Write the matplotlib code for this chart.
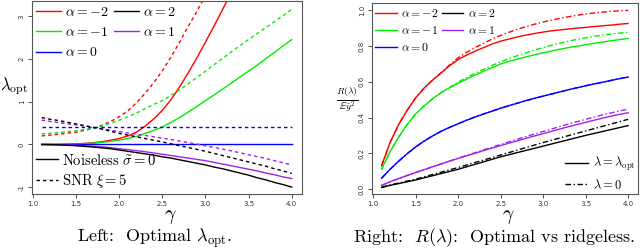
import matplotlib
matplotlib.use("Agg")
import matplotlib.pyplot as plt

plt.rcParams['mathtext.fontset'] = 'cm'
plt.rcParams['font.family'] = ['DejaVu Sans']

gamma = [1.1, 1.2, 1.3, 1.4, 1.5, 1.6, 1.7, 1.8, 1.9, 2.0,
         2.1, 2.2, 2.3, 2.4, 2.5, 2.6, 2.7, 2.8, 2.9, 3.0,
         3.1, 3.2, 3.3, 3.4, 3.5, 3.6, 3.7, 3.8, 3.9, 4.0]
alphas = [-2, -1, 0, 1, 2]
colors = {-2: '#FF0000', -1: '#00EE00', 0: '#0000FF', 1: '#A020F0', 2: '#000000'}

# left: optimal lambda, noiseless (solid) and SNR=5 (dashed)
lam_noiseless = {
    -2: [0, 0.001, 0.003, 0.008, 0.015, 0.025, 0.04, 0.065, 0.1, 0.14,
         0.2, 0.29, 0.43, 0.6, 0.8, 1.05, 1.35, 1.68, 2.03, 2.4,
         2.78, 3.17, 3.57, 3.98, 4.4, 4.8, 5.2, 5.6, 6.0, 6.4],
    -1: [0, 0.001, 0.003, 0.006, 0.01, 0.018, 0.03, 0.05, 0.07, 0.1,
         0.14, 0.19, 0.26, 0.33, 0.41, 0.52, 0.63, 0.76, 0.89, 1.03,
         1.16, 1.3, 1.44, 1.58, 1.72, 1.86, 2.01, 2.16, 2.31, 2.46],
    0: [0] * 30,
    1: [0, -0.002, -0.006, -0.012, -0.02, -0.03, -0.042, -0.057, -0.076, -0.1,
        -0.12, -0.145, -0.17, -0.2, -0.23, -0.26, -0.29, -0.32, -0.35, -0.38,
        -0.42, -0.46, -0.5, -0.54, -0.58, -0.62, -0.67, -0.71, -0.76, -0.8],
    2: [0, -0.003, -0.01, -0.02, -0.03, -0.045, -0.06, -0.08, -0.1, -0.13,
        -0.16, -0.19, -0.22, -0.25, -0.29, -0.32, -0.36, -0.4, -0.44, -0.48,
        -0.53, -0.57, -0.62, -0.67, -0.72, -0.78, -0.83, -0.89, -0.94, -1.0],
}
lam_snr = {
    -2: [0.2, 0.22, 0.24, 0.265, 0.29, 0.33, 0.38, 0.45, 0.54, 0.65,
         0.79, 0.98, 1.2, 1.45, 1.73, 2.05, 2.4, 2.77, 3.12, 3.5,
         3.9, 4.3, 4.7, 5.1, 5.5, 5.9, 6.3, 6.7, 7.1, 7.5],
    -1: [0.25, 0.26, 0.28, 0.3, 0.32, 0.35, 0.38, 0.43, 0.5, 0.57,
         0.65, 0.74, 0.84, 0.94, 1.03, 1.15, 1.28, 1.42, 1.57, 1.72,
         1.87, 2.02, 2.17, 2.32, 2.46, 2.6, 2.74, 2.88, 3.02, 3.17],
    0: [0.4] * 30,
    1: [0.57, 0.54, 0.51, 0.485, 0.46, 0.43, 0.4, 0.37, 0.335, 0.3,
        0.27, 0.24, 0.21, 0.18, 0.15, 0.115, 0.08, 0.045, 0.01, -0.03,
        -0.07, -0.11, -0.15, -0.195, -0.24, -0.285, -0.33, -0.38, -0.43, -0.48],
    2: [0.63, 0.59, 0.56, 0.52, 0.48, 0.44, 0.4, 0.36, 0.31, 0.26,
        0.22, 0.18, 0.14, 0.1, 0.06, 0.015, -0.03, -0.07, -0.115, -0.16,
        -0.21, -0.26, -0.31, -0.36, -0.41, -0.46, -0.51, -0.57, -0.62, -0.68],
}

# right: normalised risk, optimal (solid) vs ridgeless (dash-dot)
risk_opt = {
    -2: [0.13, 0.26, 0.36, 0.44, 0.51, 0.565, 0.61, 0.65, 0.69, 0.725,
         0.75, 0.772, 0.792, 0.812, 0.828, 0.84, 0.852, 0.862, 0.871, 0.879,
         0.886, 0.891, 0.896, 0.901, 0.905, 0.91, 0.914, 0.918, 0.923, 0.927],
    -1: [0.11, 0.21, 0.29, 0.36, 0.42, 0.465, 0.505, 0.54, 0.567, 0.592,
         0.615, 0.638, 0.66, 0.68, 0.7, 0.715, 0.728, 0.74, 0.752, 0.763,
         0.773, 0.783, 0.792, 0.8, 0.808, 0.816, 0.823, 0.83, 0.837, 0.843],
    0: [0.06, 0.11, 0.155, 0.197, 0.235, 0.268, 0.297, 0.323, 0.345, 0.365,
        0.385, 0.403, 0.42, 0.436, 0.452, 0.467, 0.481, 0.495, 0.508, 0.52,
        0.532, 0.544, 0.556, 0.567, 0.578, 0.588, 0.598, 0.608, 0.618, 0.627],
    1: [0.02, 0.04, 0.058, 0.075, 0.092, 0.108, 0.124, 0.14, 0.156, 0.171,
        0.186, 0.2, 0.215, 0.229, 0.243, 0.257, 0.27, 0.284, 0.297, 0.31,
        0.323, 0.336, 0.349, 0.361, 0.373, 0.385, 0.397, 0.408, 0.418, 0.427],
    2: [0.008, 0.02, 0.03, 0.04, 0.05, 0.062, 0.074, 0.086, 0.098, 0.11,
        0.124, 0.138, 0.152, 0.166, 0.18, 0.192, 0.204, 0.216, 0.228, 0.24,
        0.252, 0.264, 0.276, 0.288, 0.3, 0.311, 0.322, 0.333, 0.344, 0.355],
}
risk_ridgeless = {
    -2: [0.13, 0.26, 0.36, 0.44, 0.51, 0.565, 0.61, 0.652, 0.695, 0.735,
         0.765, 0.792, 0.816, 0.84, 0.86, 0.878, 0.895, 0.91, 0.923, 0.935,
         0.946, 0.956, 0.965, 0.973, 0.98, 0.986, 0.991, 0.995, 0.998, 1.0],
    -1: [0.11, 0.21, 0.29, 0.36, 0.42, 0.465, 0.505, 0.54, 0.569, 0.598,
         0.624, 0.648, 0.67, 0.692, 0.712, 0.73, 0.747, 0.763, 0.778, 0.792,
         0.805, 0.817, 0.828, 0.838, 0.847, 0.855, 0.862, 0.868, 0.873, 0.878],
    0: [0.06, 0.11, 0.155, 0.197, 0.235, 0.268, 0.297, 0.323, 0.345, 0.365,
        0.385, 0.403, 0.42, 0.436, 0.452, 0.467, 0.481, 0.495, 0.508, 0.52,
        0.532, 0.544, 0.556, 0.567, 0.578, 0.588, 0.598, 0.608, 0.618, 0.627],
    1: [0.02, 0.04, 0.058, 0.075, 0.092, 0.108, 0.124, 0.14, 0.156, 0.172,
        0.188, 0.203, 0.219, 0.234, 0.249, 0.264, 0.279, 0.294, 0.308, 0.322,
        0.336, 0.35, 0.364, 0.377, 0.39, 0.403, 0.415, 0.426, 0.437, 0.447],
    2: [0.01, 0.022, 0.033, 0.044, 0.055, 0.068, 0.081, 0.094, 0.107, 0.12,
        0.134, 0.148, 0.162, 0.176, 0.19, 0.204, 0.218, 0.232, 0.246, 0.26,
        0.273, 0.286, 0.299, 0.312, 0.325, 0.338, 0.351, 0.364, 0.377, 0.39],
}

xticks = [1.0, 1.5, 2.0, 2.5, 3.0, 3.5, 4.0]
left_yticks = [-1, 0, 1, 2, 3]
right_yticks = [0.0, 0.2, 0.4, 0.6, 0.8, 1.0]

fig = plt.figure(figsize=(6.4, 2.49), dpi=100)
axL = fig.add_axes([0.0495, 0.2197, 0.4219, 0.7771])
axR = fig.add_axes([0.5808, 0.2197, 0.4161, 0.7670])


def style_axis(ax, yticks, yfmt):
    ax.set_xticks(xticks)
    ax.set_xticklabels(['%.1f' % t for t in xticks])
    ax.set_yticks(yticks)
    ax.set_yticklabels([yfmt % t for t in yticks], rotation=90, va='center')
    ax.tick_params(labelsize=5, length=3, width=0.6, pad=2, colors='#333333')
    for s in ax.spines.values():
        s.set_color('#555555')
        s.set_linewidth(0.8)
    ax.set_xlim(0.984, 4.116)


lines_top = {}
for a in alphas:
    l, = axL.plot(gamma, lam_noiseless[a], color=colors[a], lw=1.0)
    axL.plot(gamma, lam_snr[a], color=colors[a], lw=1.0, dashes=(2.5, 2.2))
    lines_top[a] = l
style_axis(axL, left_yticks, '%d')
axL.set_ylim(-1.168, 3.368)

order = [-2, -1, 0, 2, 1]
lab = {a: r'$\alpha = %d$' % a for a in alphas}
leg1 = axL.legend([lines_top[a] for a in order], [lab[a] for a in order], ncol=2,
                  loc='upper left', frameon=False, fontsize=10, handlelength=1.8,
                  handletextpad=0.3, columnspacing=0.4, labelspacing=0.45,
                  borderaxespad=0.2, borderpad=0.1)
axL.add_artist(leg1)
h_solid, = axL.plot([], [], color='black', lw=1.0)
h_dash, = axL.plot([], [], color='black', lw=1.0, dashes=(2.5, 2.2))
axL.legend([h_solid, h_dash], [r'$\mathrm{Noiseless}\ \tilde{\sigma} = 0$', r'$\mathrm{SNR}\ \xi = 5$'],
           loc='lower left', frameon=False, fontsize=10.5, handlelength=1.5,
           handletextpad=0.3, labelspacing=0.3, borderaxespad=0.2, borderpad=0.1)
axL.text(0.512, -0.115, r'$\gamma$', transform=axL.transAxes, fontsize=14, ha='center', va='center')
fig.text(0.022, 0.655, r'$\lambda_{\mathrm{opt}}$', fontsize=12, ha='center', va='center')

lines_r = {}
for a in alphas:
    l, = axR.plot(gamma, risk_opt[a], color=colors[a], lw=1.0)
    axR.plot(gamma, risk_ridgeless[a], color=colors[a], lw=1.0, dashes=(4, 1.8, 1, 1.8))
    lines_r[a] = l
style_axis(axR, right_yticks, '%.1f')
axR.set_ylim(-0.03, 1.04)
leg2 = axR.legend([lines_r[a] for a in order], [lab[a] for a in order], ncol=2,
                  loc='upper left', frameon=False, fontsize=8.5, handlelength=1.8,
                  handletextpad=0.4, columnspacing=0.3, labelspacing=0.35,
                  borderaxespad=0.2, borderpad=0.1)
axR.add_artist(leg2)
r_solid, = axR.plot([], [], color='black', lw=1.0)
r_dd, = axR.plot([], [], color='black', lw=1.0, dashes=(4, 1.8, 1, 1.8))
axR.legend([r_solid, r_dd], [r'$\lambda = \lambda_{\mathrm{opt}}$', r'$\lambda = 0$'],
           loc='lower right', frameon=False, fontsize=9, handlelength=1.8,
           handletextpad=0.4, labelspacing=0.35, borderaxespad=0.1, borderpad=0.1)
axR.text(0.512, -0.115, r'$\gamma$', transform=axR.transAxes, fontsize=14, ha='center', va='center')
fig.text(0.542, 0.6, r'$\frac{R(\lambda)}{\mathbb{E}\tilde{y}^2}$', fontsize=10, ha='center', va='center')

# captions in Computer Modern roman (cmr10 ships with matplotlib)
fig.text(0.241, 0.045, r'Left:  Optimal $\lambda_{\mathrm{opt}}$.', fontsize=13,
         family='cmr10', ha='center', va='center')
fig.text(0.772, 0.045, r'Right:  $R(\lambda)$:  Optimal vs ridgeless.',
         fontsize=13, family='cmr10', ha='center', va='center')

fig.savefig('out.png', dpi=100)
